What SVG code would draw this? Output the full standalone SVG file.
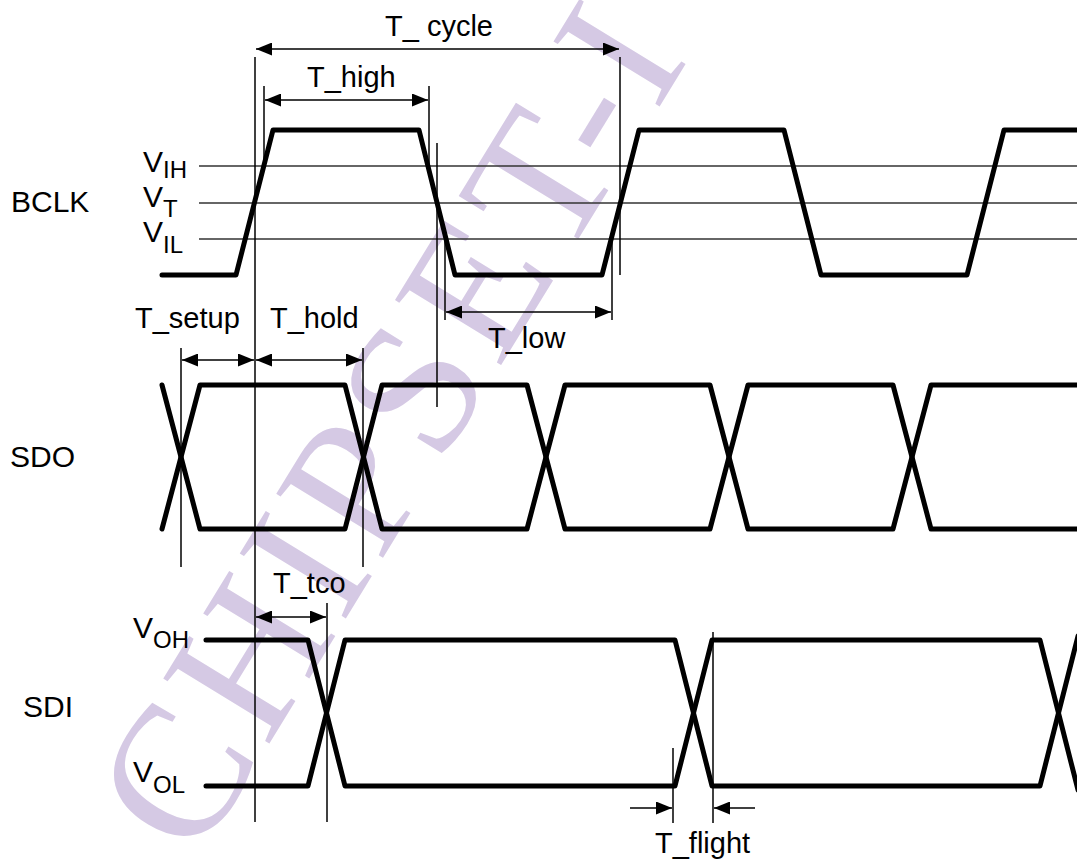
<svg xmlns="http://www.w3.org/2000/svg" width="1077" height="859" viewBox="0 0 1077 859">
<defs>
<marker id="ah" viewBox="0 0 16 13" refX="16" refY="6.5" markerWidth="16" markerHeight="13" markerUnits="userSpaceOnUse" orient="auto-start-reverse"><path d="M0,0 L16,6.5 L0,13 z" fill="#000"/></marker>
</defs>
<style>
.sig{fill:none;stroke:#000;stroke-width:5;stroke-linejoin:round;stroke-linecap:round}
.ref{stroke:#000;stroke-width:1.5}
.thr{stroke:#333;stroke-width:1.3}
.dim{stroke:#000;stroke-width:1.5;marker-end:url(#ah)}
.dim2{stroke:#000;stroke-width:1.5;marker-start:url(#ah);marker-end:url(#ah)}
text{font-family:"Liberation Sans",Arial,sans-serif;fill:#000}
.lbl{font-size:29px}
.name{font-size:30px}
.v{font-size:30px}
.sub{font-size:24px}
.wm{font-family:"Liberation Serif","Times New Roman",serif;font-size:190px;fill:#d5c9e4;letter-spacing:8px}
</style>
<rect width="1077" height="859" fill="#fff"/>
<g id="watermark">
<text class="wm" transform="translate(196,863) rotate(-58.5)">CHIPSET-I</text>
</g>
<g id="thresholds">
<line class="thr" x1="199" y1="166" x2="1077" y2="166"/>
<line class="thr" x1="199" y1="203" x2="1077" y2="203"/>
<line class="thr" x1="199" y1="239" x2="1077" y2="239"/>
</g>
<g id="BCLK">
<text class="name" x="11" y="212">BCLK</text>
<path class="sig" d="M162,275 L236,275 L273,130 L419,130 L455,275 L602,275 L639,130 L784,130 L821,275 L967,275 L1004,130 L1082,130"/>
<text class="v" x="143" y="172">V<tspan class="sub" dy="6">IH</tspan></text>
<text class="v" x="143" y="207">V<tspan class="sub" dy="10">T</tspan></text>
<text class="v" x="143" y="242">V<tspan class="sub" dy="11">IL</tspan></text>
</g>
<g id="SDO">
<text class="name" x="10" y="467">SDO</text>
<path class="sig" d="M162,385 L200,529 L345,529 L382,385 L527,385 L565,529 L710,529 L748,385 L893,385 L931,529 L1082,529"/>
<path class="sig" d="M162,529 L200,385 L345,385 L382,529 L527,529 L565,385 L710,385 L748,529 L893,529 L931,385 L1082,385"/>
</g>
<g id="SDI">
<text class="name" x="23" y="717">SDI</text>
<path class="sig" d="M206,640 L308,640 L345,786 L675,786 L712,640 L1040,640 L1078,790"/>
<path class="sig" d="M206,786 L308,786 L345,640 L675,640 L712,786 L1040,786 L1078,636"/>
<text class="v" x="133" y="638">V<tspan class="sub" dy="10">OH</tspan></text>
<text class="v" x="133" y="782">V<tspan class="sub" dy="11">OL</tspan></text>
</g>
<g id="connectors">
<line class="ref" x1="255" y1="57" x2="255" y2="822"/>
<line class="ref" x1="264" y1="86" x2="264" y2="160"/>
<line class="ref" x1="429" y1="86" x2="429" y2="168"/>
<line class="ref" x1="437" y1="143" x2="437" y2="407"/>
<line class="ref" x1="445" y1="240" x2="445" y2="320"/>
<line class="ref" x1="612" y1="240" x2="612" y2="320"/>
<line class="ref" x1="620" y1="57" x2="620" y2="275"/>
<line class="ref" x1="181" y1="348" x2="181" y2="567"/>
<line class="ref" x1="363" y1="348" x2="363" y2="567"/>
<line class="ref" x1="327" y1="603" x2="327" y2="822"/>
<line class="ref" x1="673" y1="748" x2="673" y2="823"/>
<line class="ref" x1="713" y1="632" x2="713" y2="823"/>
<line class="dim2" x1="256" y1="49" x2="619" y2="49"/>
<line class="dim2" x1="265" y1="100" x2="428" y2="100"/>
<line class="dim2" x1="446" y1="312" x2="611" y2="312"/>
<line class="dim2" x1="182" y1="360" x2="254" y2="360"/>
<line class="dim2" x1="256" y1="360" x2="362" y2="360"/>
<line class="dim2" x1="256" y1="617" x2="326" y2="617"/>
<line class="dim" x1="630" y1="808" x2="672" y2="808"/>
<line class="dim" x1="755" y1="808" x2="714" y2="808"/>
</g>
<g id="labels">
<text class="lbl" x="385" y="36">T_ cycle</text>
<text class="lbl" x="307" y="87">T_high</text>
<text class="lbl" x="488" y="348">T_low</text>
<text class="lbl" x="135" y="328">T_setup</text>
<text class="lbl" x="270" y="328">T_hold</text>
<text class="lbl" x="273" y="593">T_tco</text>
<text class="lbl" x="655" y="853">T_flight</text>
</g>
</svg>
